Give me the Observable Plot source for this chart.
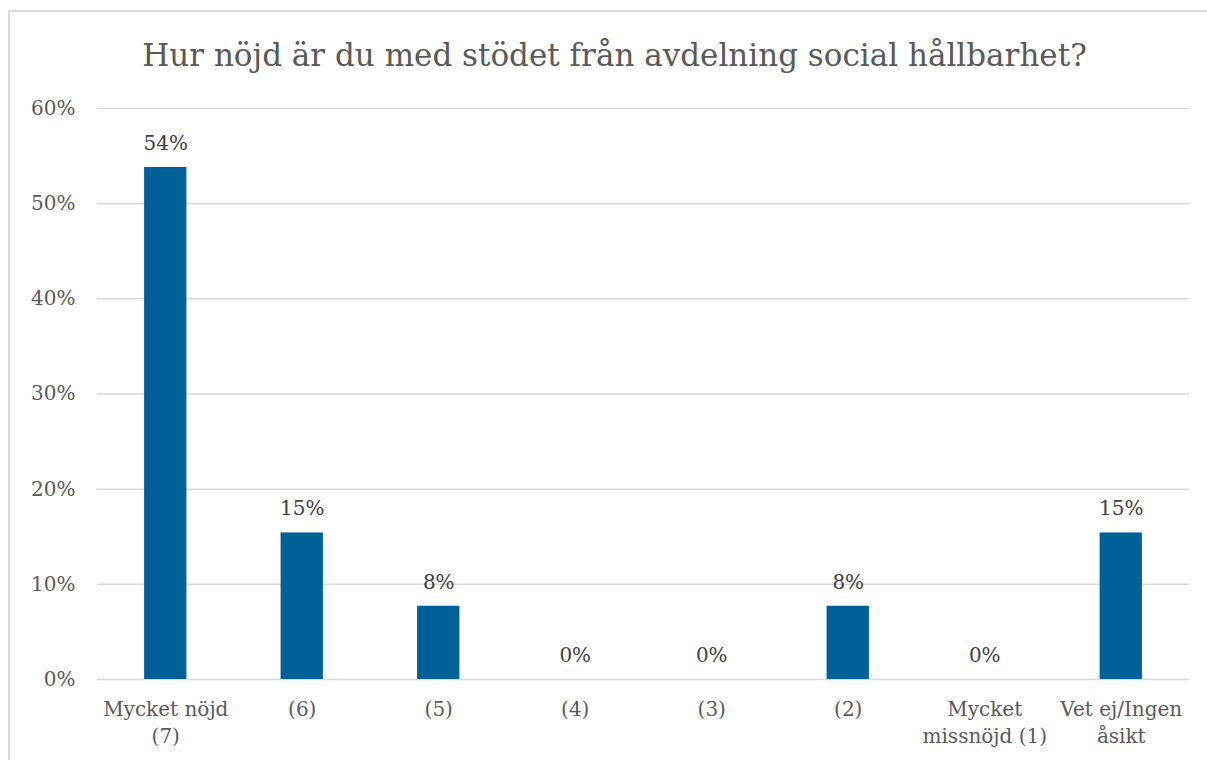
<!DOCTYPE html>
<html>
<head>
<meta charset="utf-8">
<script src="https://cdn.jsdelivr.net/npm/d3@7"></script>
<script src="https://cdn.jsdelivr.net/npm/@observablehq/plot@0.6"></script>
<style>
  html, body { margin: 0; padding: 0; background: #fff; }
  #wrap { position: relative; width: 1207px; height: 760px; overflow: hidden; }
  #frame { position: absolute; left: 8px; top: 10px; width: 1220px; height: 800px; border: 2px solid #d9d9d9; box-sizing: border-box; }
  #title { position: absolute; left: 0; width: 1229px; top: 37px; text-align: center; font-family: "DejaVu Serif", serif; color: #595959; white-space: nowrap; }
  #chart { position: absolute; left: 0; top: 0; }
</style>
</head>
<body>
<div id="wrap">
  <div id="frame"></div>
  <div id="chart"></div>
  <div id="title">Hur nöjd är du med stödet från avdelning social hållbarhet?</div>
</div>
<script>
const categories = ["Mycket nöjd (7)", "(6)", "(5)", "(4)", "(3)", "(2)", "Mycket missnöjd (1)", "Vet ej/Ingen åsikt"];
const tickLabels = ["Mycket nöjd\n(7)", "(6)", "(5)", "(4)", "(3)", "(2)", "Mycket\nmissnöjd (1)", "Vet ej/Ingen\nåsikt"];
const shares = [0.538, 0.154, 0.077, 0, 0, 0.077, 0, 0.154];
const yTicks = [0, 0.1, 0.2, 0.3, 0.4, 0.5, 0.6];

const data = categories.map((c, i) => ({category: c, share: shares[i]}));
const labelOf = new Map(categories.map((c, i) => [c, tickLabels[i]]));
const pct = d3.format(".0%");

// fit title width
const titleEl = document.getElementById("title");
const cv = document.createElement("canvas").getContext("2d");
cv.font = "100px 'DejaVu Serif'";
const w100 = cv.measureText(titleEl.textContent).width;
const fs = Math.min(34, 945 / w100 * 100);
titleEl.style.fontSize = fs + "px";

const chart = Plot.plot({
  width: 1207,
  height: 760,
  marginLeft: 97,
  marginRight: 18,
  marginTop: 108,
  marginBottom: 81,
  style: {fontFamily: "DejaVu Serif", fontSize: "20px", color: "#595959", background: "transparent"},
  x: {domain: categories, paddingInner: 0.69, paddingOuter: 0.345, round: false, label: null},
  y: {domain: [0, 0.6], label: null},
  marks: [
    Plot.ruleY(yTicks, {stroke: "#d9d9d9", strokeWidth: 1.5}),
    Plot.barY(data, {x: "category", y: "share", fill: "#006098"}),
    Plot.text(data, {x: "category", y: "share", text: d => pct(d.share), dy: -24, fill: "#404040", fontSize: 20}),
    Plot.axisY({ticks: yTicks, tickFormat: pct, tickSize: 0, tickPadding: 22, label: null, fontSize: 20, fill: "#595959"}),
    Plot.axisX({tickSize: 0, tickPadding: 18, tickFormat: d => labelOf.get(d), lineHeight: 1.32, label: null, fontSize: 20, fill: "#595959"})
  ]
});
document.getElementById("chart").appendChild(chart);
</script>
</body>
</html>
